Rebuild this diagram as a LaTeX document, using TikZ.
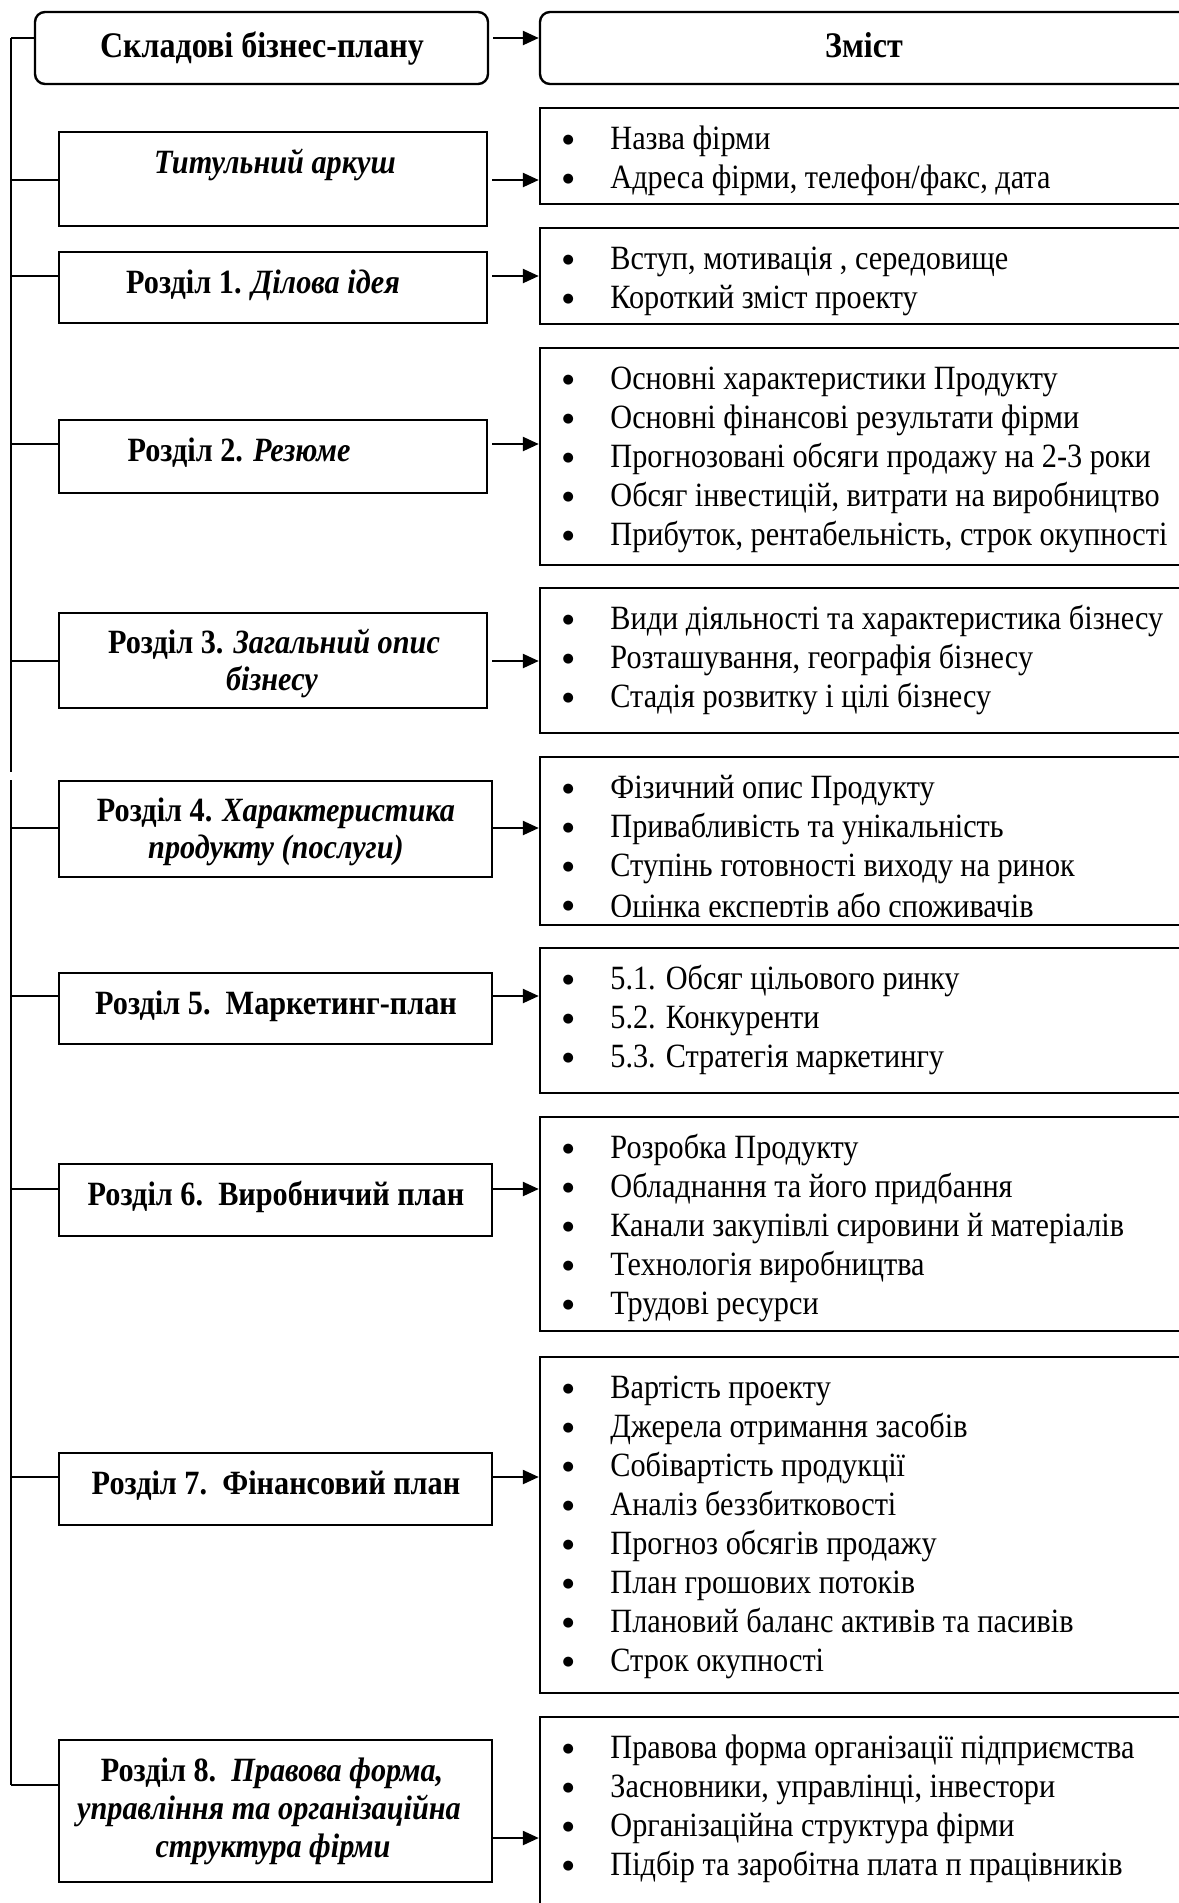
\documentclass[tikz,border=0pt]{standalone}
\usepackage{graphicx}
\usepackage{fontspec}
\setmainfont{Liberation Serif}[FakeStretch=0.89]
\newfontfamily\dejavu{DejaVu Sans}
\usetikzlibrary{arrows.meta,fit}
\newcommand\bitem[1]{\makebox[0pt][c]{\raisebox{3pt}{\dejavu\fontsize{6.5}{6.5}\selectfont ●}}\hspace{21pt}#1}
\newcommand\rlist[1]{\parbox[t]{320pt}{\lineskiplimit=-20pt #1}}
\begin{document}
\begin{tikzpicture}[x=0.5pt,y=-0.5pt,
  lbox/.style={draw, line width=1.2pt, inner sep=0pt, rectangle},
  hbox/.style={lbox, rounded corners=5pt},
  ltxt/.style={anchor=base, inner sep=0pt, font=\bfseries\fontsize{17}{18.5}\selectfont},
  htxt/.style={ltxt, font=\bfseries\fontsize{18}{19}\selectfont},
  rtxt/.style={anchor=base west, inner sep=0pt, font=\fontsize{17}{19.5}\selectfont},
  link/.style={line width=1pt},
  arr/.style={line width=1.2pt, -{Triangle[length=8pt,width=7pt]}}]
\useasboundingbox (0,0) rectangle (1179,1903);

% header
\node[hbox, fit={(35,12) (488,84)}] (hl) {};
\node[hbox, fit={(540,12) (1200,84)}] (hr) {};
\node[htxt] (hlt) at (262,57) {Складові бізнес-плану};
\node[htxt] (hrt) at (864,57) {Зміст};

% left boxes
\node[lbox, fit={(59,132) (487,226)}] (l0) {};
\node[lbox, fit={(59,252) (487,323)}] (l1) {};
\node[lbox, fit={(59,420) (487,493)}] (l2) {};
\node[lbox, fit={(59,613) (487,708)}] (l3) {};
\node[lbox, fit={(59,781) (492,877)}] (l4) {};
\node[lbox, fit={(59,973) (492,1044)}] (l5) {};
\node[lbox, fit={(59,1164) (492,1236)}] (l6) {};
\node[lbox, fit={(59,1453) (492,1525)}] (l7) {};
\node[lbox, fit={(59,1740) (492,1882)}] (l8) {};

\node[ltxt] (l0t) at (275,173) {\itshape Титульний аркуш};
\node[ltxt] (l1t) at (263,293) {Розділ 1. \itshape Ділова ідея};
\node[ltxt] (l2t) at (239,461) {Розділ 2. \itshape Резюме};
\node[ltxt] (l3t) at (274,653) {Розділ 3. \itshape Загальний опис};
\node[ltxt] (l3u) at (272,690) {\itshape бізнесу};
\node[ltxt] (l4t) at (276,821) {Розділ 4. \itshape Характеристика};
\node[ltxt] (l4u) at (276,858) {\itshape продукту (послуги)};
\node[ltxt] (l5t) at (276,1014) {Розділ 5.\ \ Маркетинг-план};
\node[ltxt] (l6t) at (276,1205) {Розділ 6.\ \ Виробничий план};
\node[ltxt] (l7t) at (276,1494) {Розділ 7.\ \ Фінансовий план};
\node[ltxt] (l8t) at (272,1781) {Розділ 8.\ \ \itshape Правова форма,};
\node[ltxt] (l8u) at (269,1819) {\itshape управління та організаційна};
\node[ltxt] (l8v) at (273,1857) {\itshape структура фірми};

% right boxes
\node[lbox, fit={(540,108) (1200,204)}] (r0) {};
\node[lbox, fit={(540,228) (1200,324)}] (r1) {};
\node[lbox, fit={(540,348) (1200,565)}] (r2) {};
\node[lbox, fit={(540,588) (1200,733)}] (r3) {};
\node[lbox, fit={(540,757) (1200,925)}] (r4) {};
\node[lbox, fit={(540,948) (1200,1093)}] (r5) {};
\node[lbox, fit={(540,1117) (1200,1331)}] (r6) {};
\node[lbox, fit={(540,1357) (1200,1693)}] (r7) {};
\node[lbox, fit={(540,1717) (1200,1960)}] (r8) {};

\node[rtxt] (r0t) at (568,149) {\rlist{\bitem{Назва фірми}\\\bitem{Адреса фірми, телефон/факс, дата}}};
\node[rtxt] (r1t) at (568,269) {\rlist{\bitem{Вступ, мотивація , середовище}\\\bitem{Короткий зміст проекту}}};
\node[rtxt] (r2t) at (568,389) {\rlist{\bitem{Основні характеристики Продукту}\\\bitem{Основні фінансові результати фірми}\\\bitem{Прогнозовані обсяги продажу на 2-3 роки}\\\bitem{Обсяг інвестицій, витрати на виробництво}\\\bitem{Прибуток, рентабельність, строк окупності}}};
\node[rtxt] (r3t) at (568,629) {\rlist{\bitem{Види діяльності та характеристика бізнесу}\\\bitem{Розташування, географія бізнесу}\\\bitem{Стадія розвитку і цілі бізнесу}}};
\begin{scope}
\clip (540,757) rectangle (1200,916);
\node[rtxt] (r4t) at (568,798) {\rlist{\bitem{Фізичний опис Продукту}\\\bitem{Привабливість та унікальність}\\\bitem{Ступінь готовності виходу на ринок}\\\bitem{\raisebox{-1.2pt}{Оцінка експертів або споживачів}}}};
\end{scope}
\node[rtxt] (r5t) at (568,989) {\rlist{\bitem{5.1. Обсяг цільового ринку}\\\bitem{5.2. Конкуренти}\\\bitem{5.3. Стратегія маркетингу}}};
\node[rtxt] (r6t) at (568,1158) {\rlist{\bitem{Розробка Продукту}\\\bitem{Обладнання та його придбання}\\\bitem{Канали закупівлі сировини й матеріалів}\\\bitem{Технологія виробництва}\\\bitem{Трудові ресурси}}};
\node[rtxt] (r7t) at (568,1398) {\rlist{\bitem{Вартість проекту}\\\bitem{Джерела отримання засобів}\\\bitem{Собівартість продукції}\\\bitem{Аналіз беззбитковості}\\\bitem{Прогноз обсягів продажу}\\\bitem{План грошових потоків}\\\bitem{Плановий баланс активів та пасивів}\\\bitem{Строк окупності}}};
\node[rtxt] (r8t) at (568,1758) {\rlist{\bitem{Правова форма організації підприємства}\\\bitem{Засновники, управлінці, інвестори}\\\bitem{Організаційна структура фірми}\\\bitem{Підбір та заробітна плата п працівників}}};

% spine
\coordinate (sp0) at (11,38);
\coordinate (sp1) at (11,772);
\coordinate (sp2) at (11,780);
\coordinate (sp3) at (11,1785);
\draw[link] (sp0) -- (sp1);
\draw[link] (sp2) -- (sp3);
\draw[link] (sp0) -- (hl.west |- sp0);
\foreach \b/\y in {l0/180,l1/276,l2/444,l3/661,l4/828,l5/996,l6/1189,l7/1477}{
  \coordinate (s-\b) at (0,\y);
  \draw[link] (sp0 |- s-\b) -- (\b.west |- s-\b);
}
\draw[link] (sp3) -- (l8.west |- sp3);

% arrows
\draw[arr] ([xshift=2pt]hl.east |- sp0) -- (hr.west |- sp0);
\foreach \b/\r/\y in {l0/r0/180,l1/r1/276,l2/r2/444,l3/r3/661}{
  \coordinate (a-\b) at (0,\y);
  \draw[arr] ([xshift=2pt]\b.east |- a-\b) -- (\r.west |- a-\b);
}
\foreach \b/\r/\y in {l4/r4/828,l5/r5/996,l6/r6/1189,l7/r7/1477,l8/r8/1838}{
  \coordinate (a-\b) at (0,\y);
  \draw[arr] (\b.east |- a-\b) -- (\r.west |- a-\b);
}
\end{tikzpicture}
\end{document}
